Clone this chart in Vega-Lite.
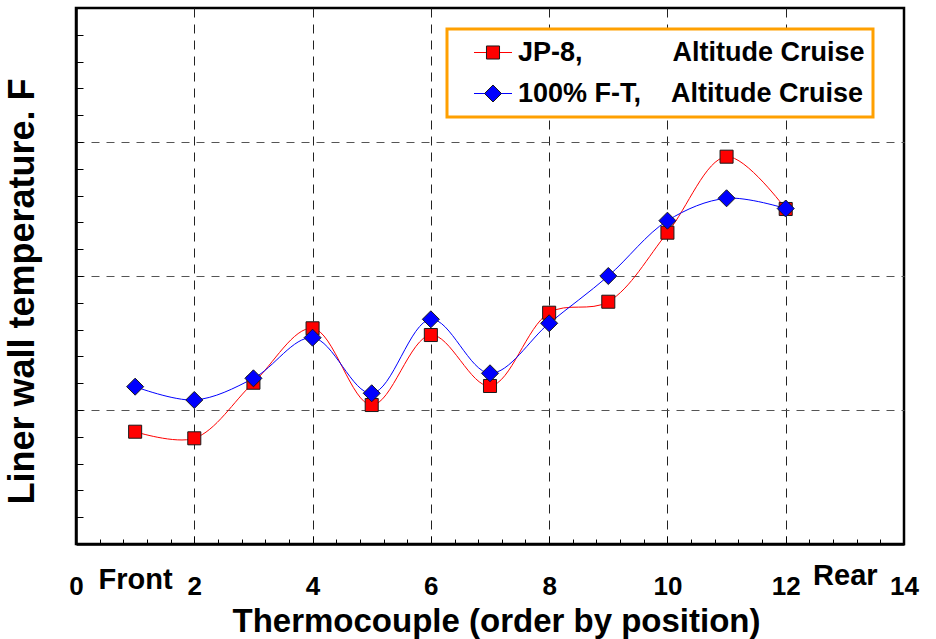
{
  "$schema": "https://vega.github.io/schema/vega-lite/v6.json",
  "width": 828,
  "height": 536,
  "autosize": {"type": "none"},
  "padding": {"left": 76, "top": 8, "right": 32, "bottom": 95},
  "background": "white",
  "config": {
    "font": "Liberation Sans",
    "view": {"stroke": "black", "strokeWidth": 2.5}
  },
  "data": {
    "values": [
      {"pos": 1, "temp": 20.95, "fuel": "JP-8"},
      {"pos": 2, "temp": 19.72, "fuel": "JP-8"},
      {"pos": 3, "temp": 30.09, "fuel": "JP-8"},
      {"pos": 4, "temp": 40.24, "fuel": "JP-8"},
      {"pos": 5, "temp": 25.93, "fuel": "JP-8"},
      {"pos": 6, "temp": 38.99, "fuel": "JP-8"},
      {"pos": 7, "temp": 29.48, "fuel": "JP-8"},
      {"pos": 8, "temp": 43.15, "fuel": "JP-8"},
      {"pos": 9, "temp": 45.2, "fuel": "JP-8"},
      {"pos": 10, "temp": 58.08, "fuel": "JP-8"},
      {"pos": 11, "temp": 72.26, "fuel": "JP-8"},
      {"pos": 12, "temp": 62.5, "fuel": "JP-8"},
      {"pos": 1, "temp": 29.35, "fuel": "100% F-T"},
      {"pos": 2, "temp": 26.87, "fuel": "100% F-T"},
      {"pos": 3, "temp": 30.91, "fuel": "100% F-T"},
      {"pos": 4, "temp": 38.49, "fuel": "100% F-T"},
      {"pos": 5, "temp": 28.12, "fuel": "100% F-T"},
      {"pos": 6, "temp": 41.92, "fuel": "100% F-T"},
      {"pos": 7, "temp": 31.85, "fuel": "100% F-T"},
      {"pos": 8, "temp": 41.18, "fuel": "100% F-T"},
      {"pos": 9, "temp": 50.0, "fuel": "100% F-T"},
      {"pos": 10, "temp": 60.32, "fuel": "100% F-T"},
      {"pos": 11, "temp": 64.5, "fuel": "100% F-T"},
      {"pos": 12, "temp": 62.59, "fuel": "100% F-T"}
    ]
  },
  "encoding": {
    "x": {
      "field": "pos",
      "type": "quantitative",
      "scale": {"domain": [0, 14], "nice": false, "zero": false},
      "axis": {
        "title": "Thermocouple (order by position)",
        "values": [0, 0.4, 0.8, 1, 1.2, 1.6, 2, 2.4, 2.8, 3.2, 3.6, 4, 4.4, 4.8, 5.2, 5.6, 6, 6.4, 6.8, 7.2, 7.6, 8, 8.4, 8.8, 9.2, 9.6, 10, 10.4, 10.8, 11.2, 11.6, 12, 12.4, 12.8, 13, 13.2, 13.6, 14],
        "domain": true,
        "domainColor": "black",
        "domainWidth": 2.5,
        "grid": true,
        "gridColor": "#222222",
        "gridDash": [9, 7],
        "gridWidth": 1,
        "gridOpacity": {"condition": {"test": "datum.value > 1.5 && datum.value < 12.5 && abs(datum.value/2 - round(datum.value/2)) < 0.01", "value": 1}, "value": 0},
        "ticks": true,
        "tickColor": "black",
        "tickWidth": 1,
        "tickSize": {"condition": {"test": "abs(datum.value/2 - round(datum.value/2)) < 0.01", "value": -8}, "value": -5},
        "tickOpacity": {"condition": {"test": "abs(datum.value-1) < 0.01 || abs(datum.value-13) < 0.01", "value": 0}, "value": 1},
        "labelExpr": "abs(datum.value-1) < 0.01 ? 'Front' : (abs(datum.value-13) < 0.01 ? 'Rear' : (abs(datum.value/2 - round(datum.value/2)) < 0.01 ? format(round(datum.value), 'd') : ''))",
        "labelFont": "Liberation Sans",
        "labelFontWeight": "bold",
        "labelColor": "black",
        "labelFontSize": {"condition": {"test": "abs(datum.value-1) < 0.01 || abs(datum.value-13) < 0.01", "value": 29}, "value": 26},
        "labelBaseline": "alphabetic",
        "labelPadding": {"condition": [{"test": "abs(datum.value-1) < 0.01", "value": 49}, {"test": "abs(datum.value-13) < 0.01", "value": 45}], "value": 58},
        "labelOverlap": false,
        "labelFlush": false,
        "labelBound": false,
        "titleFont": "Liberation Sans",
        "titleFontSize": 33,
        "titleFontWeight": "bold",
        "titleColor": "black",
        "titleX": 420,
        "titleY": 87,
        "titleAlign": "center",
        "titleBaseline": "alphabetic"
      }
    },
    "y": {
      "field": "temp",
      "type": "quantitative",
      "scale": {"domain": [0, 100], "nice": false, "zero": false},
      "axis": {
        "title": "Liner wall temperature. F",
        "values": [0, 5, 10, 15, 20, 25, 30, 35, 40, 45, 50, 55, 60, 65, 70, 75, 80, 85, 90, 95, 100],
        "labels": false,
        "domain": true,
        "domainColor": "black",
        "domainWidth": 2.5,
        "grid": true,
        "gridColor": "#555555",
        "gridDash": [8, 7],
        "gridWidth": 1,
        "gridOpacity": {"condition": {"test": "datum.value == 25 || datum.value == 50 || datum.value == 75", "value": 1}, "value": 0},
        "ticks": true,
        "tickSize": -7,
        "tickColor": "black",
        "tickWidth": 1,
        "titleFont": "Liberation Sans",
        "titleFontSize": 36,
        "titleFontWeight": "bold",
        "titleColor": "black",
        "titleX": -43,
        "titleY": 283,
        "titleAngle": -90,
        "titleAlign": "center",
        "titleBaseline": "alphabetic"
      }
    }
  },
  "layer": [
    {
      "mark": {"type": "line", "interpolate": "catmull-rom", "strokeWidth": 1},
      "encoding": {
        "stroke": {
          "field": "fuel",
          "type": "nominal",
          "sort": null,
          "scale": {"range": ["#FF0000", "#0000FF"]},
          "legend": {
            "title": null,
            "orient": "none",
            "legendX": 371,
            "legendY": 21,
            "zindex": 1,
            "padding": 8,
            "fillColor": "white",
            "strokeColor": "#FFA000",
            "symbolType": "stroke",
            "symbolSize": 1444,
            "symbolStrokeWidth": 1,
            "symbolOffset": 18.5,
            "labelOffset": 5.5,
            "clipHeight": 31,
            "rowPadding": 10,
            "labelFont": "Liberation Sans",
            "labelFontSize": 27,
            "labelFontWeight": "bold",
            "labelOpacity": 0,
            "labelLimit": 0,
            "labelExpr": "datum.label == 'JP-8' ? 'JP-8,\u00a0\u00a0\u00a0\u00a0\u00a0\u00a0\u00a0\u00a0\u00a0\u00a0\u00a0\u00a0Altitude Cruise' : '100% F-T,\u00a0\u00a0\u00a0\u00a0Altitude Cruise'",
            "encode": {"legend": {"update": {"strokeWidth": {"value": 3}}}}
          }
        }
      }
    },
    {
      "mark": {"type": "point", "filled": true, "stroke": "#1a1a1a", "strokeWidth": 1, "opacity": 1},
      "encoding": {
        "fill": {
          "field": "fuel",
          "type": "nominal",
          "scale": {"domain": ["JP-8", "100% F-T"], "range": ["#FF0000", "#0000FF"]},
          "legend": {
            "title": null,
            "orient": "none",
            "legendX": 371,
            "legendY": 21,
            "zindex": 2,
            "padding": 8,
            "symbolOffset": 24.5,
            "labelOffset": 11.5,
            "clipHeight": 31,
            "rowPadding": 10,
            "symbolStrokeColor": "#1a1a1a",
            "symbolStrokeWidth": 1,
            "labelFont": "Liberation Sans",
            "labelFontSize": 27,
            "labelFontWeight": "bold",
            "labelColor": "black",
            "labelLimit": 0,
            "labelExpr": "datum.label == 'JP-8' ? 'JP-8,\u00a0\u00a0\u00a0\u00a0\u00a0\u00a0\u00a0\u00a0\u00a0\u00a0\u00a0\u00a0Altitude Cruise' : '100% F-T,\u00a0\u00a0\u00a0\u00a0Altitude Cruise'"
          }
        },
        "shape": {
          "field": "fuel",
          "type": "nominal",
          "scale": {"domain": ["JP-8", "100% F-T"], "range": ["square", "diamond"]}
        },
        "size": {
          "field": "fuel",
          "type": "ordinal",
          "scale": {"domain": ["JP-8", "100% F-T"], "range": [170, 290]}
        }
      }
    }
  ]
}
